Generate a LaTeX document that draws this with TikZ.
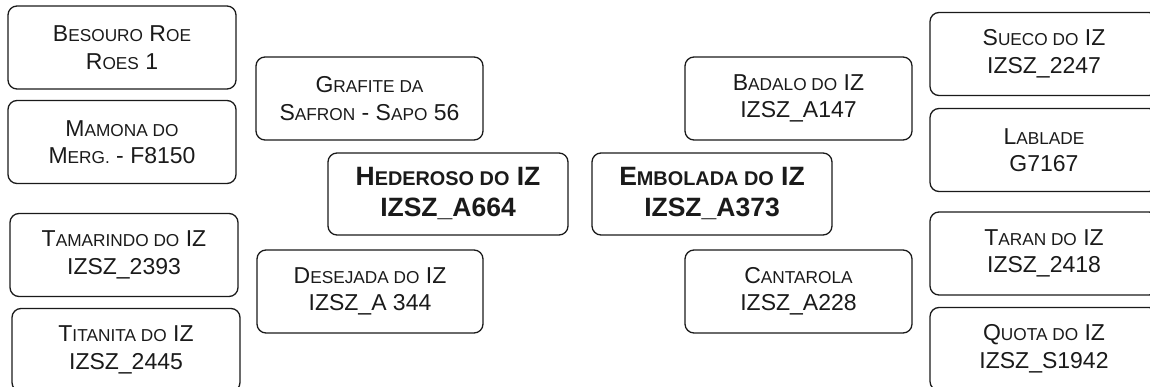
\documentclass[tikz,border=0pt]{standalone}
\usepackage{fontspec}
\setmainfont{Liberation Sans}
\newfontfamily\scfont[Scale=0.75]{Liberation Sans}
\usepackage{xcolor}
\usepackage{tikz}
\usetikzlibrary{positioning}
\definecolor{ink}{HTML}{1A1A1A}
\newcommand{\smc}[1]{{\scfont #1}}

\begin{document}
\begin{tikzpicture}[
  x=1pt, y=-1pt,
  box/.style={draw=ink, rounded corners=9pt, line width=1.3pt, align=center,
              minimum width=228pt, minimum height=83pt, inner sep=0pt,
              text=ink, font=\fontsize{23}{27.5}\selectfont},
  hub/.style={box, minimum width=240pt, minimum height=82pt,
              font=\fontsize{26.5}{31}\selectfont\bfseries}
]
\useasboundingbox (0,0) rectangle (1150,387);
\clip (0,0) rectangle (1150,387);

% left column
\node[box] (besouro) at (122,47.5) {B\smc{ESOURO} R\smc{OE}\\R\smc{OES} 1};
\node[box] (mamona) at (122,142) {M\smc{AMONA DO}\\M\smc{ERG.} - F8150};
\node[box] (tamarindo) at (124,255) {T\smc{AMARINDO DO} IZ\\IZSZ\_2393};
\node[box] (titanita) at (126,350) {T\smc{ITANITA DO} IZ\\IZSZ\_2445};

% inner left
\node[box, minimum width=227pt] (grafite) at (369.5,98.5) {G\smc{RAFITE DA}\\S\smc{AFRON} - S\smc{APO} 56};
\node[hub] (hederoso) at (448,194) {H\smc{EDEROSO DO} IZ\\IZSZ\_A664};
\node[box, minimum width=226pt] (desejada) at (370,291.5) {D\smc{ESEJADA DO} IZ\\IZSZ\_A 344};

% inner right
\node[box, minimum width=227pt] (badalo) at (798.5,98.5) {B\smc{ADALO DO} IZ\\IZSZ\_A147};
\node[hub] (embolada) at (712,194) {E\smc{MBOLADA DO} IZ\\IZSZ\_A373};
\node[box, minimum width=227pt] (cantarola) at (798.5,291.5) {C\smc{ANTAROLA}\\IZSZ\_A228};

% right column
\node[box] (sueco) at (1044,54) {S\smc{UECO DO} IZ\\IZSZ\_2247};
\node[box] (lablade) at (1044,150) {L\smc{ABLADE}\\G7167};
\node[box] (taran) at (1044,253.5) {T\smc{ARAN DO} IZ\\IZSZ\_2418};
\node[box] (quota) at (1044,349) {Q\smc{UOTA DO} IZ\\IZSZ\_S1942};
\end{tikzpicture}
\end{document}
